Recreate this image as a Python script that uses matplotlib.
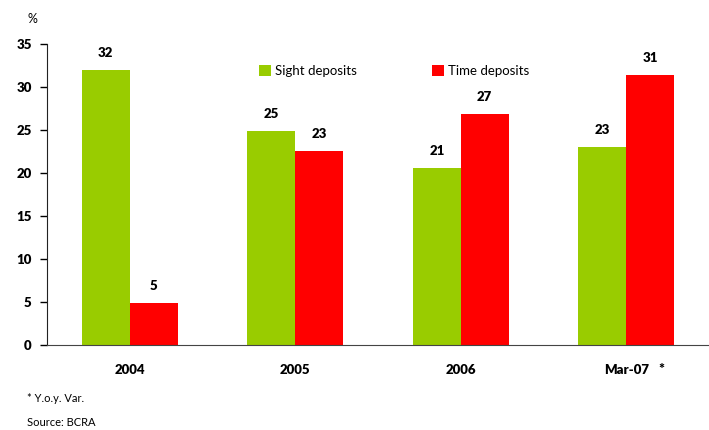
import numpy as np
import matplotlib.pyplot as plt

plt.rcParams['font.family'] = ['Lato', 'DejaVu Sans']

periods = ['2004', '2005', '2006', 'Mar-07']
sight = [32.0, 24.9, 20.6, 23.0]
time_dep = [4.9, 22.6, 26.9, 31.4]

green = '#99CC00'
red = '#FF0000'

fig = plt.figure(figsize=(7.09, 4.30), dpi=100)
ax = fig.add_axes([0.0663, 0.1977, 0.9337, 0.70])

x = np.arange(len(periods))
w = 0.289
b1 = ax.bar(x - w/2, sight, w, color=green, label='Sight deposits')
b2 = ax.bar(x + w/2, time_dep, w, color=red, label='Time deposits')

for bars in (b1, b2):
    for r in bars:
        ax.annotate(f'{r.get_height():.0f}', (r.get_x() + r.get_width()/2, r.get_height()),
                    xytext=(0, 8), textcoords='offset points', ha='center', va='bottom',
                    fontsize=9.5, fontweight='heavy')

ax.set_xlim(-0.5, 3.5)
ax.set_ylim(0, 35)
ax.set_yticks(range(0, 36, 5))
ax.set_xticks(x)
ax.set_xticklabels(periods, fontweight='heavy', fontsize=9.5)
ax.text(3.21, -2.9, '*', ha='center', va='center', fontsize=10, fontweight='heavy')
for t in ax.get_yticklabels():
    t.set_fontweight('heavy')
    t.set_fontsize(9.5)

ax.tick_params(axis='y', direction='out', length=5, width=1, pad=6)
ax.tick_params(axis='x', length=0, pad=14)
for s in ('top', 'right'):
    ax.spines[s].set_visible(False)
ax.spines['left'].set_color('#222222')
ax.spines['bottom'].set_color('#444444')

ax.legend(loc='center left', bbox_to_anchor=(259/709, 1 - 71/430), bbox_transform=fig.transFigure,
          ncol=2, frameon=False, fontsize=9.5, handlelength=0.9, handleheight=0.9,
          handletextpad=0.3, columnspacing=5.7, borderpad=0, borderaxespad=0)

fig.text(32/709, 1 - 19/430, '%', ha='center', va='center', fontsize=9)
fig.text(27/709, 1 - 398/430, '* Y.o.y. Var.', ha='left', va='center', fontsize=8)
fig.text(27/709, 1 - 423/430, 'Source: BCRA', ha='left', va='center', fontsize=8)

fig.savefig('out.png', dpi=100)
